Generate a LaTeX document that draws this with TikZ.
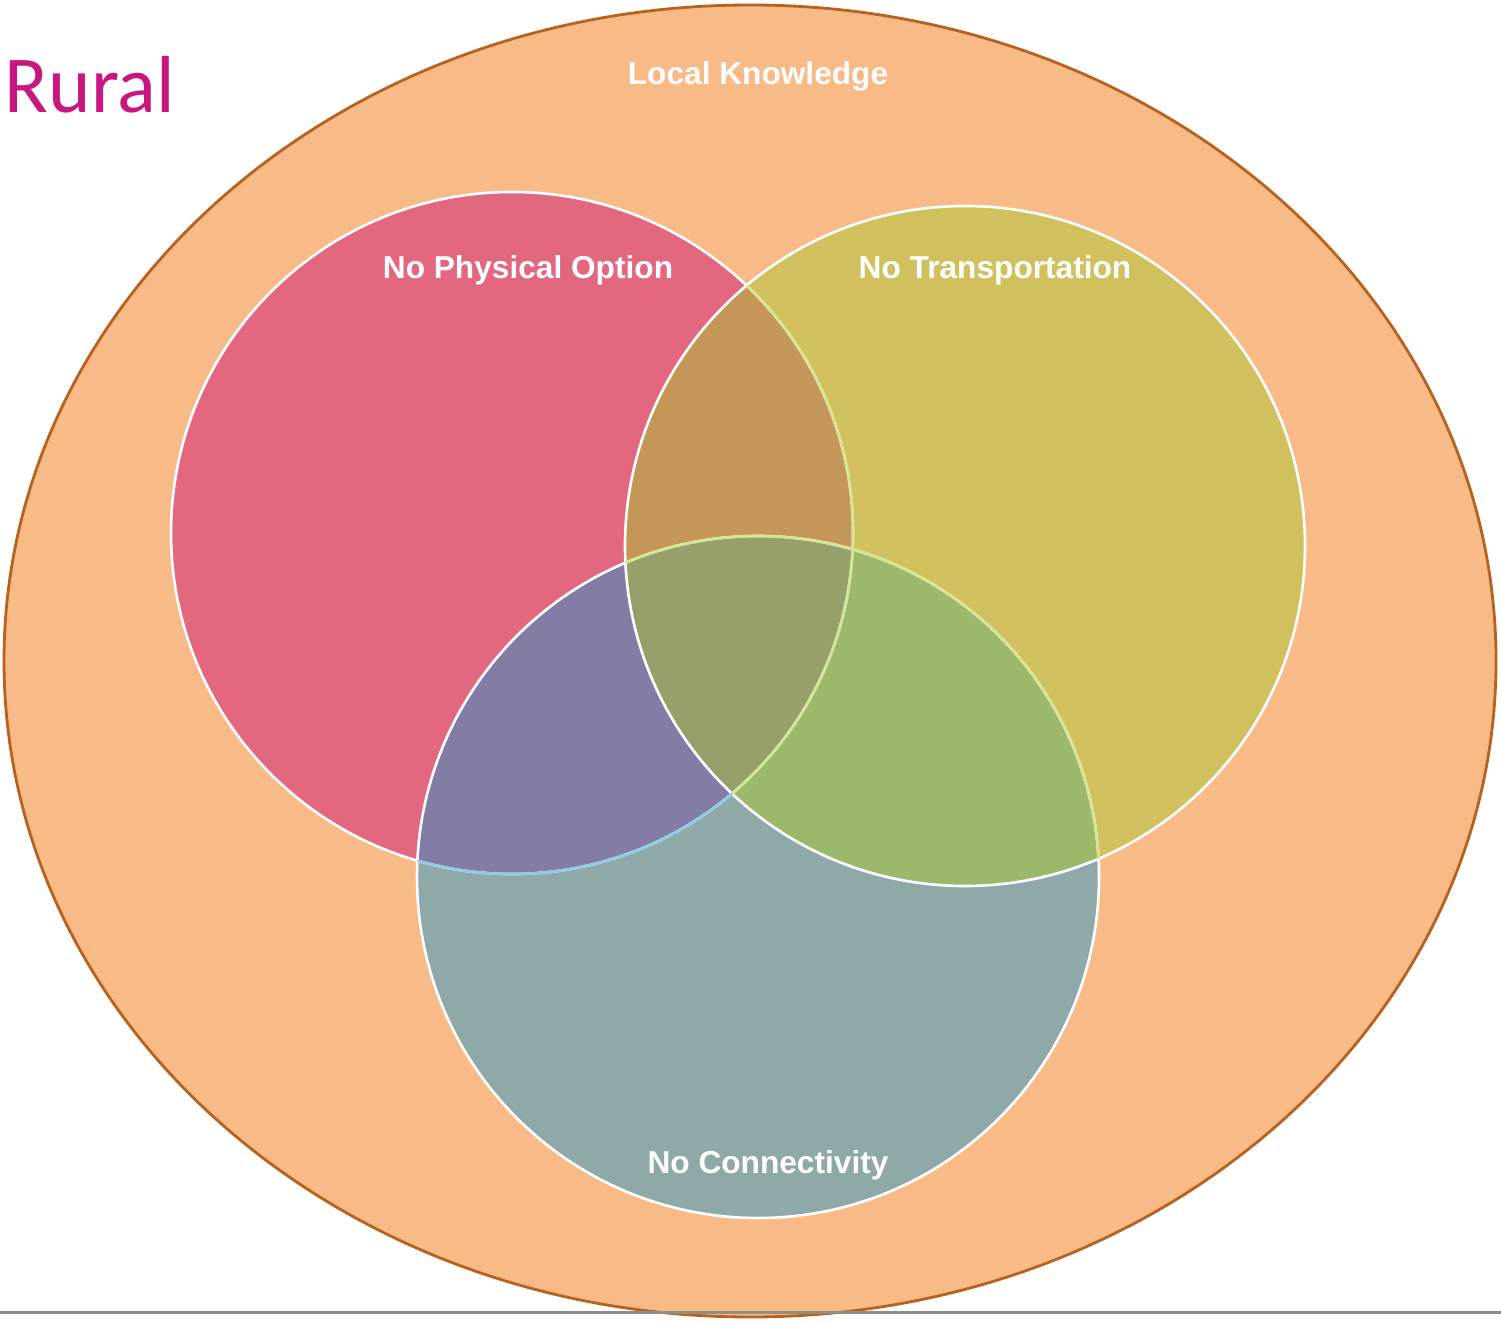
\documentclass[tikz,border=0pt]{standalone}
\usepackage{fontspec}
\setmainfont{Liberation Sans}
\newfontfamily\ruralfont{Carlito}
\usepackage{tikz}

\definecolor{knowfill}{HTML}{F8BB88}
\definecolor{knowline}{HTML}{B8621E}
\definecolor{optfill}{HTML}{E2677F}
\definecolor{transfill}{HTML}{D0C15E}
\definecolor{connfill}{HTML}{8FA8A8}
\definecolor{opttrans}{HTML}{C49657}
\definecolor{optconn}{HTML}{837CA5}
\definecolor{transconn}{HTML}{9CB86B}
\definecolor{allthree}{HTML}{95A06B}
\definecolor{tintgreen}{HTML}{D5E590}
\definecolor{tintblue}{HTML}{8DCBE6}
\definecolor{ruralpink}{HTML}{C8177E}
\definecolor{rulegray}{HTML}{8F8F87}

\def\optcircle{(512,533) circle [radius=341]}
\def\transcircle{(965,546) circle [radius=340]}
\def\conncircle{(758,877) circle [radius=341]}

\tikzset{
    setlabel/.style={anchor=base, text=white, font=\fontsize{9}{11}\selectfont\bfseries, inner sep=0pt},
    setedge/.style={line width=0.75pt}
}

\begin{document}
\begin{tikzpicture}[x=0.01cm, y=-0.01cm]
        \useasboundingbox (0,0) rectangle (1501,1322);

        \fill[knowfill] (750,661) ellipse [x radius=746, y radius=656];
        \draw[knowline, line width=0.8pt] (750,661) ellipse [x radius=746, y radius=656];

        \fill[optfill] \optcircle;
        \fill[transfill] \transcircle;
        \fill[connfill] \conncircle;
        \begin{scope}
            \clip \optcircle;
            \fill[opttrans] \transcircle;
            \fill[optconn] \conncircle;
            \clip \transcircle;
            \fill[allthree] \conncircle;
        \end{scope}
        \begin{scope}
            \clip \transcircle;
            \fill[transconn] \conncircle;
            \clip \optcircle;
            \fill[allthree] \conncircle;
        \end{scope}

        \draw[setedge, white] \optcircle;
        \draw[setedge, white] \conncircle;
        \draw[setedge, white] \transcircle;
        \begin{scope}
            \clip \conncircle;
            \draw[setedge, tintblue] \optcircle;
        \end{scope}
        \begin{scope}
            \clip \transcircle;
            \draw[setedge, tintgreen] \optcircle;
            \draw[setedge, tintgreen] \conncircle;
        \end{scope}

        \node[setlabel] (knowledge) at (758,85) {Local Knowledge};
        \node[setlabel] (physical) at (528,279) {No Physical Option};
        \node[setlabel] (transport) at (995,279) {No Transportation};
        \node[setlabel] (connect) at (768,1173) {No Connectivity};
        \node[anchor=base west, inner sep=0pt, text=ruralpink, font=\ruralfont\fontsize{23}{27}\selectfont] (rural) at (4,113) {Rural};

        \draw[rulegray, line width=0.6pt] (0,1312.5) -- (1501,1312.5);
    \end{tikzpicture}
\end{document}
